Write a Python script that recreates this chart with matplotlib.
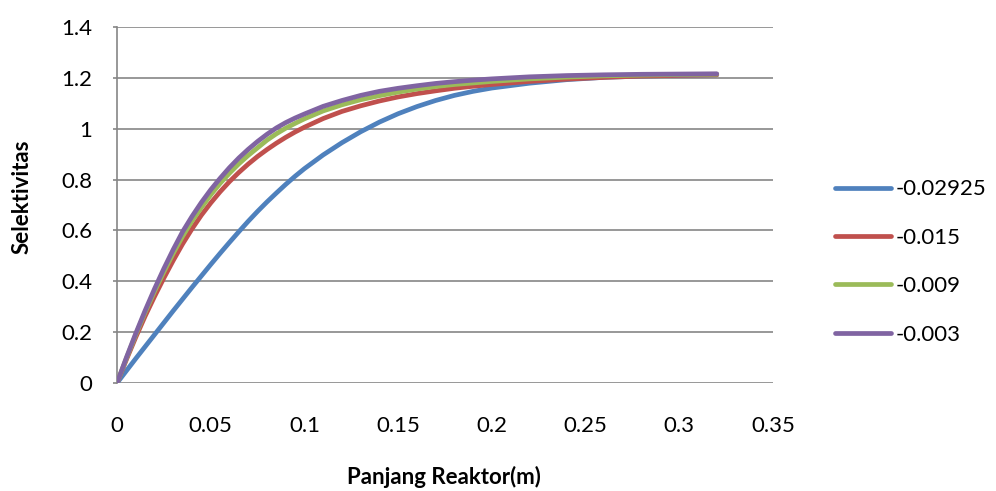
import matplotlib
matplotlib.use("Agg")
import matplotlib.pyplot as plt

# Reactor length (m)
panjang = [0, 0.005, 0.01, 0.015, 0.02, 0.025, 0.03, 0.035, 0.04, 0.045,
           0.05, 0.055, 0.06, 0.065, 0.07, 0.075, 0.08, 0.085, 0.09, 0.095,
           0.10, 0.11, 0.12, 0.13, 0.14, 0.15, 0.16, 0.17, 0.18, 0.19,
           0.20, 0.22, 0.24, 0.26, 0.28, 0.30, 0.32]

# Selectivity along the reactor for each parameter value
sel_002925 = [0, 0.048, 0.096, 0.143, 0.19, 0.237, 0.284, 0.33, 0.376, 0.421,
              0.466, 0.51, 0.553, 0.595, 0.636, 0.675, 0.712, 0.747, 0.781, 0.813,
              0.843, 0.897, 0.945, 0.988, 1.026, 1.059, 1.087, 1.111, 1.131, 1.147,
              1.16, 1.179, 1.193, 1.202, 1.207, 1.21, 1.212]
sel_0015 = [0, 0.092, 0.18, 0.263, 0.34, 0.413, 0.482, 0.547, 0.606, 0.66,
            0.708, 0.752, 0.792, 0.828, 0.861, 0.891, 0.918, 0.943, 0.966, 0.987,
            1.006, 1.04, 1.068, 1.09, 1.109, 1.125, 1.138, 1.149, 1.159, 1.167,
            1.174, 1.186, 1.195, 1.202, 1.207, 1.21, 1.212]
sel_0009 = [0, 0.097, 0.19, 0.278, 0.36, 0.437, 0.51, 0.577, 0.637, 0.69,
            0.74, 0.785, 0.825, 0.862, 0.895, 0.925, 0.955, 0.98, 1.002, 1.021,
            1.039, 1.07, 1.094, 1.114, 1.13, 1.144, 1.156, 1.166, 1.174, 1.18,
            1.186, 1.196, 1.203, 1.208, 1.211, 1.213, 1.214]
sel_0003 = [0, 0.1, 0.195, 0.285, 0.37, 0.45, 0.525, 0.595, 0.655, 0.71,
            0.76, 0.805, 0.847, 0.885, 0.919, 0.95, 0.978, 1.003, 1.024, 1.042,
            1.058, 1.088, 1.111, 1.131, 1.147, 1.159, 1.169, 1.178, 1.185, 1.191,
            1.196, 1.204, 1.209, 1.212, 1.214, 1.215, 1.216]

series_labels = ["-0.02925", "-0.015", "-0.009", "-0.003"]
series_values = [sel_002925, sel_0015, sel_0009, sel_0003]
colors = ["#4F81BD", "#C0504D", "#9BBB59", "#8064A2"]

xticks = [0, 0.05, 0.1, 0.15, 0.2, 0.25, 0.3, 0.35]
xtick_labels = ["0", "0.05", "0.1", "0.15", "0.2", "0.25", "0.3", "0.35"]
yticks = [0, 0.2, 0.4, 0.6, 0.8, 1.0, 1.2, 1.4]
ytick_labels = ["0", "0.2", "0.4", "0.6", "0.8", "1", "1.2", "1.4"]

plt.rcParams["font.family"] = ["Lato", "DejaVu Sans"]

fig = plt.figure(figsize=(9.96, 4.91), dpi=100)
ax = fig.add_axes([0.1175, 0.22, 0.6586, 0.725])

grid_col = "#868686"
for y in yticks:
    ax.axhline(y, color=grid_col, lw=1.2, zorder=1)

lines = []
for vals, lab, c in zip(series_values, series_labels, colors):
    ln, = ax.plot(panjang, vals, color=c, lw=3.4, label=lab,
                  solid_capstyle="round", solid_joinstyle="round", zorder=3)
    lines.append(ln)

ax.set_xlim(0, 0.35)
ax.set_ylim(0, 1.4)
ax.set_xticks(xticks)
ax.set_xticklabels(xtick_labels)
ax.set_yticks(yticks)
ax.set_yticklabels(ytick_labels)

for s in ["top", "right", "bottom"]:
    ax.spines[s].set_visible(False)
ax.spines["left"].set_color(grid_col)
ax.spines["left"].set_linewidth(1.2)

ax.tick_params(axis="y", length=3, width=1.2, color=grid_col, labelsize=16, pad=15)
ax.tick_params(axis="x", length=0, labelsize=16, pad=24)

fig.text(0.4453, 0.0285, "Panjang Reaktor(m)", fontsize=16, fontweight="bold",
         ha="center", va="center")
fig.text(0.022, 0.60, "Selektivitas", fontsize=16, fontweight="bold",
         rotation=90, ha="center", va="center")

fig.legend(handles=lines, labels=series_labels, loc="center left",
           bbox_to_anchor=(0.838, 0.4664), frameon=False, fontsize=16,
           borderpad=0, borderaxespad=0,
           handlelength=2.55, handletextpad=0.18, labelspacing=1.28)

fig.savefig("out.png", dpi=100)
